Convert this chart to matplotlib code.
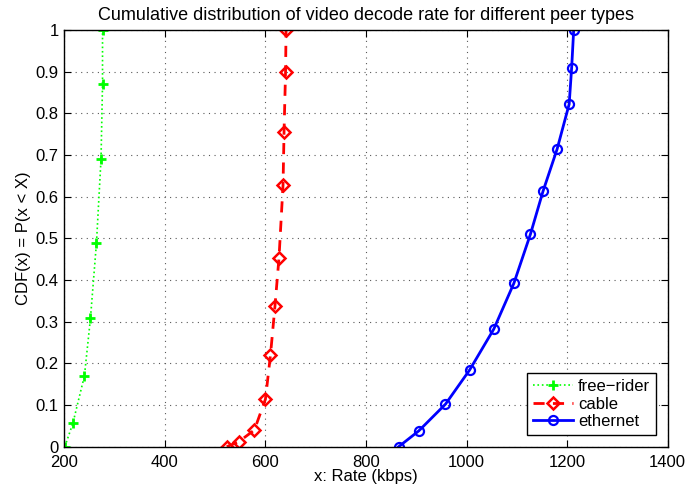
import matplotlib.pyplot as plt

# Values
free_rider_rate = [201, 217, 240, 252, 264, 273, 276, 276]
free_rider_cdf = [0.0, 0.056, 0.17, 0.308, 0.49, 0.69, 0.87, 1.0]

cable_rate = [523, 547, 578, 600, 610, 619, 627, 635, 637, 640, 641]
cable_cdf = [0.0, 0.012, 0.04, 0.114, 0.22, 0.338, 0.454, 0.628, 0.756, 0.9, 1.0]

ethernet_rate = [865, 905, 958, 1006, 1054, 1094, 1127, 1152, 1180, 1204, 1209, 1213]
ethernet_cdf = [0.0, 0.038, 0.102, 0.184, 0.282, 0.392, 0.51, 0.613, 0.714, 0.822, 0.91, 1.0]

plt.rcParams["font.family"] = ["Liberation Sans", "DejaVu Sans"]

fig = plt.figure(figsize=(6.9, 4.92), dpi=100)
ax = fig.add_axes([0.0932, 0.0921, 0.8745, 0.8469])

ax.plot(free_rider_rate, free_rider_cdf, color=(0, 1, 0), linestyle=":", linewidth=1.2,
        marker="+", markersize=7, markeredgewidth=2, label="free\u2212rider")
ax.plot(cable_rate, cable_cdf, color="red", linestyle="--", linewidth=2, dashes=(4, 3),
        marker="D", markersize=6.5, markerfacecolor="none", markeredgewidth=1.8, label="cable")
ax.plot(ethernet_rate, ethernet_cdf, color="blue", linestyle="-", linewidth=2,
        marker="o", markersize=6.5, markerfacecolor="none", markeredgewidth=1.6, label="ethernet")

ax.set_xlim(200, 1400)
ax.set_ylim(0, 1)
ax.set_xticks(range(200, 1401, 200))
ax.set_yticks([i / 10 for i in range(11)])
ax.set_yticklabels(["0", "0.1", "0.2", "0.3", "0.4", "0.5", "0.6", "0.7", "0.8", "0.9", "1"])
ax.tick_params(direction="in", top=True, right=True, labelsize=12, length=5)
ax.tick_params(axis="x", pad=6)
ax.tick_params(axis="y", pad=4)
ax.grid(True, linestyle=(0, (1, 4)), color="0.35", linewidth=0.8)
for s in ax.spines.values():
    s.set_linewidth(1.0)

ax.set_title("Cumulative distribution of video decode rate for different peer types",
             fontsize=13, pad=7)
ax.set_xlabel("x: Rate (kbps)", fontsize=12, labelpad=-1)
ax.set_ylabel("CDF(x) = P(x < X)", fontsize=12, labelpad=3)

leg = ax.legend(loc="lower right", fontsize=12, fancybox=False, framealpha=1,
                edgecolor="black", handlelength=2.4, handletextpad=0.3,
                borderaxespad=0.7, labelspacing=0.15, borderpad=0.35)
leg.get_frame().set_linewidth(1.0)

fig.savefig("out.png", dpi=100)
